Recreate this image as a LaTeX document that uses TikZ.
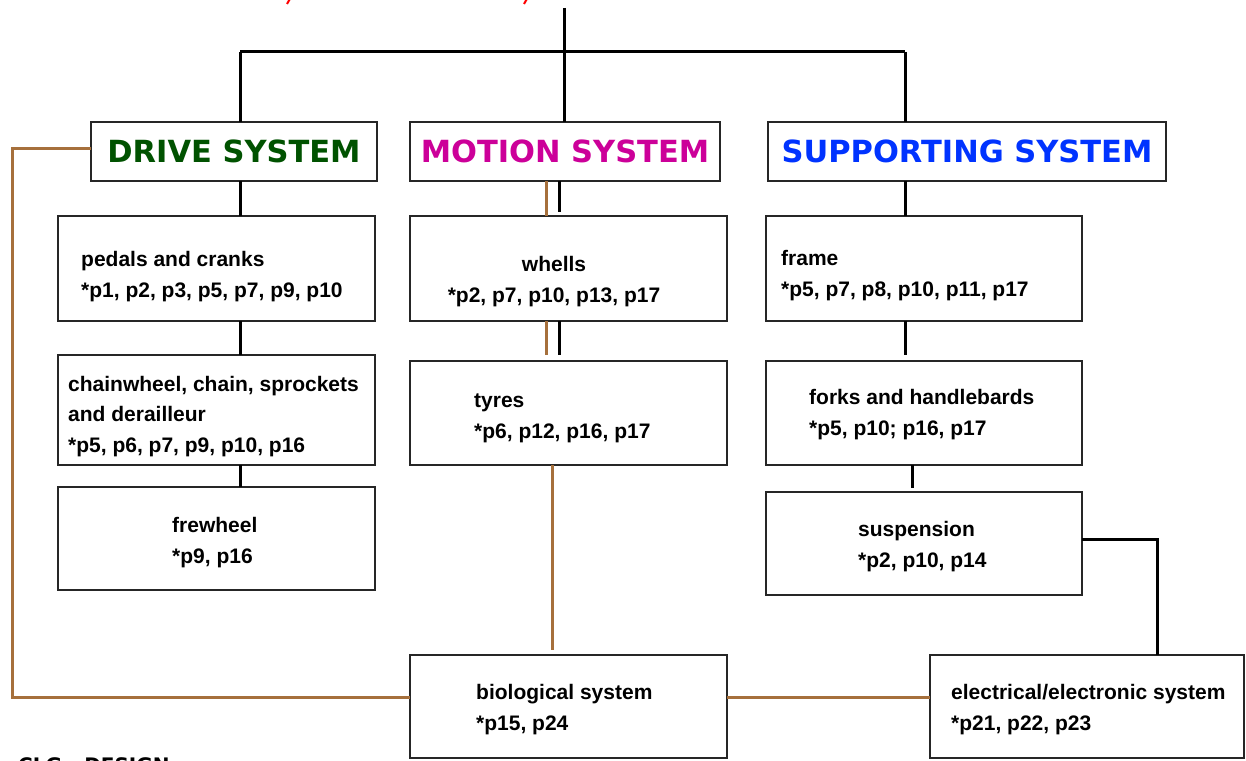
\documentclass[tikz,border=0pt]{standalone}
\usepackage{fontspec}
\newfontfamily\headfont{DejaVu Sans}
\newfontfamily\bodyfont{Liberation Sans}
\definecolor{brownline}{RGB}{166,112,60}
\definecolor{dgreen}{RGB}{0,82,0}
\definecolor{dmagenta}{RGB}{204,0,153}
\definecolor{dblue}{RGB}{0,51,255}
\begin{document}
\begin{tikzpicture}[x=1pt,y=-1pt]
\tikzset{
 box/.style={draw=black!85, line width=1.8pt, anchor=north west, inner sep=0pt, outer sep=0pt},
 head/.style={font=\headfont\bfseries\fontsize{30.5}{30}\selectfont, inner sep=0pt},
 body/.style={font=\bodyfont\bfseries\fontsize{21}{30.5}\selectfont, anchor=base west, align=left, inner sep=0pt},
 link/.style={line width=3pt, black},
 bro/.style={line width=3pt, brownline},
}
\useasboundingbox (0,0) rectangle (1246,760);
\fill[white] (0,0) rectangle (1246,760);
% boxes
\node[box, minimum width=286, minimum height=59] (drive) at (91,122) {};
\node[box, minimum width=310, minimum height=59] (motion) at (410,122) {};
\node[box, minimum width=398, minimum height=59] (support) at (768,122) {};
\node[box, minimum width=317, minimum height=105] (pedals) at (58,216) {};
\node[box, minimum width=317, minimum height=110] (chain) at (58,355) {};
\node[box, minimum width=317, minimum height=103] (frew) at (58,487) {};
\node[box, minimum width=317, minimum height=105] (whells) at (410,216) {};
\node[box, minimum width=317, minimum height=104] (tyres) at (410,361) {};
\node[box, minimum width=316, minimum height=105] (frame) at (766,216) {};
\node[box, minimum width=316, minimum height=104] (forks) at (766,361) {};
\node[box, minimum width=316, minimum height=103] (susp) at (766,492) {};
\node[box, minimum width=317, minimum height=103] (bio) at (410,655) {};
\node[box, minimum width=314, minimum height=103] (elec) at (930,655) {};
% coordinates
\coordinate (top) at (564,8);
\coordinate (cL) at (240,52);
\coordinate (cR) at (905,52);
\coordinate (mB) at (559,0);
\coordinate (mW) at (546,0);
\coordinate (mT) at (552,0);
\coordinate (sS) at (912,0);
\coordinate (eX) at (1157,0);
\coordinate (bl) at (0,697);
\coordinate (dl) at (12,148);
% black connectors
\draw[link] (cL) -- (cR);
\draw[link] (top) -- (top |- motion.north);
\draw[link] (cL) -- (cL |- drive.north);
\draw[link] (cR) -- (cR |- support.north);
\draw[link] (cL |- drive.south) -- (cL |- pedals.north);
\draw[link] (cL |- pedals.south) -- (cL |- chain.north);
\draw[link] (cL |- chain.south) -- (cL |- frew.north);
\draw[link, shorten >=4pt] (mB |- motion.south) -- (mB |- whells.north);
\draw[link, shorten >=6pt] (mB |- whells.south) -- (mB |- tyres.north);
\draw[link] (cR |- support.south) -- (cR |- frame.north);
\draw[link, shorten >=6pt] (cR |- frame.south) -- (cR |- forks.north);
\draw[link, shorten >=4pt] (sS |- forks.south) -- (sS |- susp.north);
\draw[link] ([yshift=4pt]susp.east) -| (eX |- elec.north);
% brown connectors
\draw[bro] (mW |- motion.south) -- (mW |- whells.north);
\draw[bro, shorten >=6pt] (mW |- whells.south) -- (mW |- tyres.north);
\draw[bro, shorten >=5pt] (mT |- tyres.south) -- (mT |- bio.north);
\draw[bro] (bio.east |- bl) -- (elec.west |- bl);
\draw[bro] (drive.west |- dl) -- (dl) |- (bio.west |- bl);
% headings
\node[head, text=dgreen] (drivet) at (drive.center) {DRIVE SYSTEM};
\node[head, text=dmagenta] (motiont) at (motion.center) {MOTION SYSTEM};
\node[head, text=dblue] (supportt) at (support.center) {SUPPORTING SYSTEM};
% body texts (anchor = baseline of the last line)
\node[body] (pedalst) at (81,297) {pedals and cranks\\{}*p1, p2, p3, p5, p7, p9, p10};
\node[body] (chaint) at (68,452) {chainwheel, chain, sprockets\\{}and derailleur\\{}*p5, p6, p7, p9, p10, p16};
\node[body] (frewt) at (172,563) {frewheel\\{}*p9, p16};
\node[body, align=center, anchor=base] (whellst) at (554,302) {whells\\{}*p2, p7, p10, p13, p17};
\node[body] (tyrest) at (474,438) {tyres\\{}*p6, p12, p16, p17};
\node[body] (framet) at (781,296) {frame\\{}*p5, p7, p8, p10, p11, p17};
\node[body] (forkst) at (809,435) {forks and handlebards\\{}*p5, p10; p16, p17};
\node[body] (suspt) at (858,567) {suspension\\{}*p2, p10, p14};
\node[body] (biot) at (476,730) {biological system\\{}*p15, p24};
\node[body] (elect) at (951,730) {electrical/electronic system\\{}*p21, p22, p23};
% footer (cut by the frame, as in the reference)
\node[font=\headfont\bfseries\fontsize{20}{20}\selectfont, anchor=base west, inner sep=0pt] (clg) at (18,772) {CLG - DESIGN};
% red fragments at the top edge
\draw[red, line width=2pt] (291,-3) -- (287,4);
\draw[red, line width=2pt] (528,-3) -- (524,4);
\end{tikzpicture}
\end{document}
